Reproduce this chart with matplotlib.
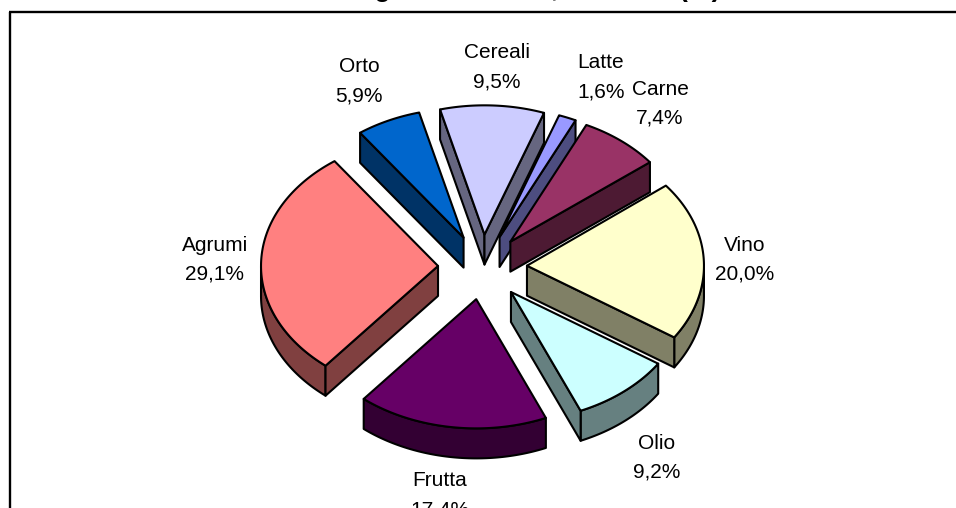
import matplotlib
matplotlib.use('Agg')
import matplotlib.pyplot as plt
from matplotlib.patches import Polygon
import numpy as np

plt.rcParams['font.family'] = ['Liberation Sans', 'DejaVu Sans']

# clockwise, starting from the Vino slice
names = ['Vino', 'Olio', 'Frutta', 'Agrumi', 'Orto', 'Cereali', 'Latte', 'Carne']
values = [20.0, 9.2, 17.4, 29.1, 5.9, 9.5, 1.6, 7.4]
labels = ['20,0%', '9,2%', '17,4%', '29,1%', '5,9%', '9,5%', '1,6%', '7,4%']
top_colors = ['#FFFFCC', '#CCFFFF', '#660066', '#FF8080', '#0066CC', '#CCCCFF', '#9999FF', '#993366']
side_colors = ['#808066', '#668080', '#330033', '#804040', '#003366', '#666680', '#4D4D80', '#4D1A33']
label_x = [745, 657, 440, 215, 359, 497, 601, 660]
label_y = [259, 457, 494, 259, 80, 66, 76, 103]
title = 'Struttura agroalimentare, Calabria (%)'

# pie geometry in image pixels
cx, cy = 482.5, 267
rx = 177
ratio = 0.73
depth = 30
explode = 44.5
start = 38.3
lw = 1.5

fig = plt.figure(figsize=(9.56, 5.08), dpi=100)
ax = fig.add_axes([0, 0, 1, 1])
ax.set_xlim(0, 956)
ax.set_ylim(508, 0)
ax.axis('off')

ax.plot([10, 10], [508, 12], color='black', lw=1.7, solid_capstyle='butt')
ax.plot([9, 956], [12, 12], color='black', lw=1.7, solid_capstyle='butt')

ax.text(480, -3.5, title, ha='center', va='baseline', fontsize=19.3, fontweight='bold')

edges = start - np.cumsum([0] + values) * 3.6


def draw_slice(i):
    a0, a1 = np.radians(edges[i]), np.radians(edges[i + 1])
    mid = (a0 + a1) / 2
    ox = cx + explode * np.cos(mid)
    oy = cy - explode * ratio * np.sin(mid)
    t = np.linspace(a0, a1, 120)
    arc = np.column_stack([ox + rx * np.cos(t), oy - rx * ratio * np.sin(t)])
    apex = np.array([ox, oy])
    down = np.array([0, depth])
    style = dict(edgecolor='black', linewidth=lw, joinstyle='round')
    # only the part of the rim that faces the viewer
    front = arc[np.sin(t) < 0]
    if len(front) > 1:
        ax.add_patch(Polygon(np.vstack([front, (front + down)[::-1]]), facecolor=side_colors[i], **style))
    # cut faces, only when turned towards the viewer
    if np.cos(a0) < 0:
        ax.add_patch(Polygon([apex, arc[0], arc[0] + down, apex + down], facecolor=side_colors[i], **style))
    if np.cos(a1) > 0:
        ax.add_patch(Polygon([apex, arc[-1], arc[-1] + down, apex + down], facecolor=side_colors[i], **style))
    ax.add_patch(Polygon(np.vstack([apex, arc]), facecolor=top_colors[i], **style))


# back slices first so the front ones cover them
mids = (edges[:-1] + edges[1:]) / 2
order = np.argsort(-np.sin(np.radians(mids)))
for i in order:
    draw_slice(i)

for i in range(len(names)):
    ax.text(label_x[i], label_y[i] - 8, names[i], ha='center', va='baseline', fontsize=15)
    ax.text(label_x[i], label_y[i] + 21, labels[i], ha='center', va='baseline', fontsize=15)

fig.savefig('out.png', dpi=100)
